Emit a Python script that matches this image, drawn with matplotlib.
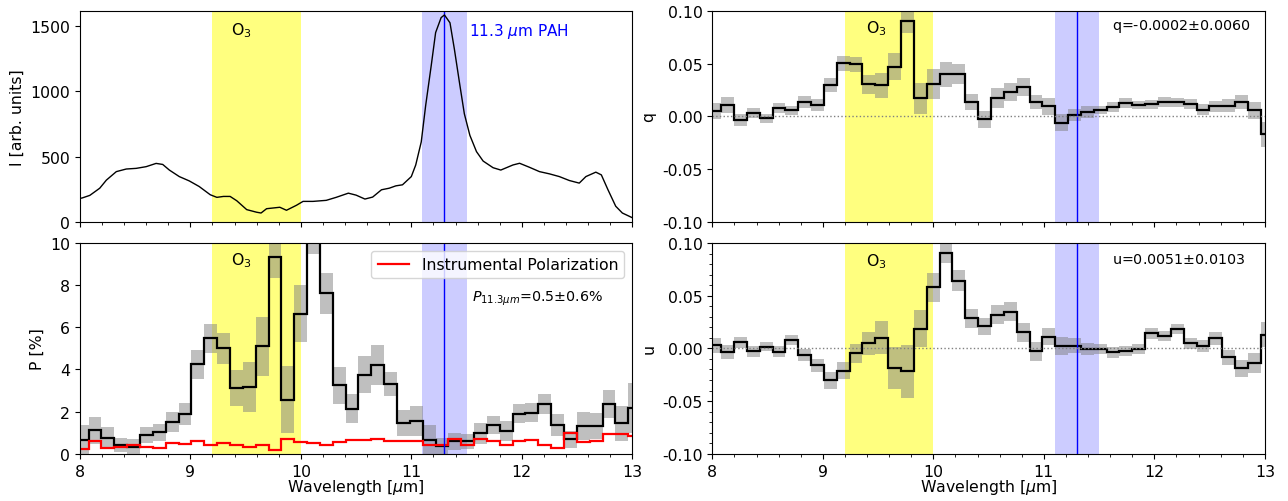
import numpy as np
import matplotlib
matplotlib.use("Agg")
import matplotlib.pyplot as plt
from matplotlib.ticker import MultipleLocator

# intensity spectrum
wl_spec = [8.00, 8.02, 8.09, 8.18, 8.24, 8.33, 8.42, 8.51, 8.60, 8.69, 8.75, 8.81, 8.90,
           8.99, 9.08, 9.18, 9.24, 9.30, 9.36, 9.42, 9.51, 9.60, 9.64, 9.69, 9.81,
           9.87, 9.96, 10.02, 10.11, 10.23, 10.32, 10.43, 10.50, 10.58, 10.65, 10.73,
           10.80, 10.86, 10.92, 11.00, 11.04, 11.09, 11.13, 11.18, 11.22, 11.27, 11.30,
           11.35, 11.39, 11.44, 11.48, 11.53, 11.59, 11.65, 11.74, 11.81, 11.92, 11.98,
           12.07, 12.16, 12.25, 12.34, 12.43, 12.52, 12.58, 12.67, 12.72, 12.78, 12.85,
           12.91, 12.99, 13.00]
flux = [180, 183, 203, 258, 320, 385, 405, 410, 423, 448, 440, 397, 347,
        314, 271, 208, 188, 195, 195, 162, 94, 74, 68, 101, 112,
        89, 127, 157, 157, 165, 188, 220, 205, 175, 190, 246,
        258, 276, 284, 347, 436, 613, 892, 1196, 1450, 1565, 1585,
        1525, 1322, 1044, 828, 663, 538, 466, 415, 397, 436, 449,
        418, 385, 368, 347, 317, 297, 347, 381, 360, 246, 120,
        68, 36, 32]

# binned polarization (44 bins between 7.96 and 13.08 um)
P = [0.67, 1.11, 0.75, 0.43, 0.32, 0.87, 1.03, 1.51, 1.90, 4.24, 5.48, 5.00, 3.14, 3.17,
     5.11, 9.32, 2.57, 6.65, 10.3, 7.62, 3.25, 2.14, 3.76, 4.21, 3.29, 1.46, 1.56, 0.67,
     0.35, 0.60, 0.60, 0.98, 1.35, 1.08, 1.90, 1.95, 2.35, 1.35, 0.68, 1.32, 1.32, 2.35,
     1.46, 2.17]
P_err = [0.70, 0.63, 0.50, 0.33, 0.36, 0.38, 0.40, 0.48, 0.52, 0.67, 0.69, 0.74, 0.85, 1.20,
         1.40, 1.00, 1.60, 1.35, 0.80, 0.97, 0.87, 0.70, 0.87, 0.94, 0.57, 0.60, 0.70, 0.70,
         0.40, 0.40, 0.36, 0.50, 0.43, 0.48, 0.44, 0.44, 0.48, 0.52, 0.40, 0.67, 0.63, 0.67,
         0.83, 1.20]
P_inst = [0.25, 0.59, 0.27, 0.32, 0.44, 0.32, 0.27, 0.52, 0.48, 0.60, 0.40, 0.52, 0.43, 0.32,
          0.40, 0.16, 0.71, 0.56, 0.52, 0.44, 0.56, 0.67, 0.67, 0.71, 0.60, 0.60, 0.63, 0.40,
          0.40, 0.71, 0.44, 0.71, 0.63, 0.44, 0.63, 0.67, 0.44, 0.29, 1.00, 0.56, 0.63, 0.95,
          0.95, 0.83]

q = [0.0051, 0.0105, -0.0035, 0.0035, -0.0016, 0.0080, 0.0057, 0.0137, 0.0108, 0.0298,
     0.0503, 0.0494, 0.0304, 0.0294, 0.0472, 0.0905, 0.0171, 0.0310, 0.0399, 0.0399,
     0.0137, -0.0028, 0.0177, 0.0231, 0.0279, 0.0137, 0.0095, -0.0060, 0.0013, 0.0045,
     0.0060, 0.0092, 0.0130, 0.0108, 0.0115, 0.0139, 0.0133, 0.0120, 0.0066, 0.0095,
     0.0101, 0.0133, 0.0057, -0.0171]
q_err = [0.0076, 0.0076, 0.0055, 0.0050, 0.0043, 0.0050, 0.0040, 0.0055, 0.0060, 0.0070,
         0.0070, 0.0073, 0.0090, 0.0120, 0.0130, 0.0110, 0.0150, 0.0145, 0.0120, 0.0095,
         0.0080, 0.0080, 0.0095, 0.0087, 0.0082, 0.0068, 0.0080, 0.0080, 0.0055, 0.0055,
         0.0040, 0.0047, 0.0047, 0.0040, 0.0040, 0.0046, 0.0044, 0.0049, 0.0050, 0.0050,
         0.0060, 0.0066, 0.0084, 0.0120]

u = [0.0031, -0.0032, 0.0057, -0.0029, 0.0015, -0.0032, 0.0079, -0.0064, -0.0159, -0.0301,
     -0.0213, -0.0048, 0.0047, 0.0101, -0.0187, -0.0216, 0.0186, 0.0580, 0.0903, 0.0640,
     0.0285, 0.0209, 0.0320, 0.0348, 0.0152, -0.0029, 0.0110, 0.0025, 0.0025, -0.0007,
     -0.0007, -0.0038, -0.0022, -0.0007, 0.0142, 0.0120, 0.0183, 0.0047, 0.0025, 0.0095,
     -0.0086, -0.0190, -0.0140, 0.0129]
u_err = [0.0071, 0.0066, 0.0050, 0.0048, 0.0044, 0.0050, 0.0044, 0.0055, 0.0063, 0.0080,
         0.0080, 0.0090, 0.0110, 0.0155, 0.0200, 0.0250, 0.0174, 0.0138, 0.0095, 0.0100,
         0.0092, 0.0082, 0.0092, 0.0090, 0.0087, 0.0087, 0.0080, 0.0084, 0.0071, 0.0057,
         0.0048, 0.0052, 0.0048, 0.0048, 0.0050, 0.0048, 0.0050, 0.0055, 0.0057, 0.0063,
         0.0071, 0.0080, 0.0092, 0.0120]

edges = np.linspace(7.963, 13.08, len(P) + 1)

plt.rcParams["font.size"] = 11.3

fig, axes = plt.subplots(2, 2, sharex=True, figsize=(12.88, 5.02), dpi=100)
fig.subplots_adjust(left=0.062, right=0.982, bottom=0.094, top=0.976, wspace=0.145, hspace=0.1)
ax_i, ax_q = axes[0]
ax_p, ax_u = axes[1]


def bands(ax):
    ax.axvspan(9.2, 10.0, color="yellow", alpha=0.5, lw=0)
    ax.axvspan(11.1, 11.5, color="blue", alpha=0.2, lw=0)
    ax.axvline(11.3, color="blue", lw=1)


def binned(ax, vals, errs):
    vals = np.array(vals)
    errs = np.array(errs)
    ax.stairs(vals + errs, edges, baseline=vals - errs, fill=True, color="gray", alpha=0.5, lw=0)
    ax.stairs(vals, edges, baseline=None, color="black", lw=1.6)


# intensity
bands(ax_i)
ax_i.plot(wl_spec, flux, color="black", lw=1)
ax_i.set_ylim(0, 1615)
ax_i.set_ylabel("I [arb. units]")
ax_i.text(9.37, 1470, r"O$_3$", va="center")
ax_i.text(11.52, 1465, r"11.3 $\mu$m PAH", color="blue", va="center", fontsize=11)

# polarization degree
bands(ax_p)
binned(ax_p, P, P_err)
ax_p.stairs(P_inst, edges, baseline=None, color="red", lw=1.6, label="Instrumental Polarization")
ax_p.set_ylim(0, 10)
ax_p.set_ylabel("P [%]")
ax_p.set_xlabel(r"Wavelength [$\mu$m]", labelpad=-1)
ax_p.text(9.37, 9.19, r"O$_3$", va="center")
ax_p.text(11.55, 7.38, r"$P_{11.3\mu m}$=0.5$\pm$0.6%", va="center", fontsize=10.3)
ax_p.legend(loc="upper right")

# q
bands(ax_q)
binned(ax_q, q, q_err)
ax_q.axhline(0, color="gray", ls=":", lw=1)
ax_q.set_ylim(-0.1, 0.1)
ax_q.set_ylabel("q")
ax_q.text(9.39, 0.084, r"O$_3$", va="center")
ax_q.text(11.62, 0.086, "q=-0.0002$\\pm$0.0060", va="center", fontsize=10.3)

# u
bands(ax_u)
binned(ax_u, u, u_err)
ax_u.axhline(0, color="gray", ls=":", lw=1)
ax_u.set_ylim(-0.1, 0.1)
ax_u.set_ylabel("u")
ax_u.set_xlabel(r"Wavelength [$\mu$m]", labelpad=-1)
ax_u.text(9.39, 0.083, r"O$_3$", va="center")
ax_u.text(11.62, 0.085, "u=0.0051$\\pm$0.0103", va="center", fontsize=10.3)
ax_u.yaxis.set_minor_locator(MultipleLocator(0.01))

for ax in [ax_q, ax_u]:
    ax.yaxis.set_major_locator(MultipleLocator(0.05))
    ax.yaxis.set_major_formatter(matplotlib.ticker.FormatStrFormatter("%.2f"))

for ax in axes.flat:
    ax.set_xlim(8, 13)
    ax.xaxis.set_major_locator(MultipleLocator(1))
    ax.xaxis.set_minor_locator(MultipleLocator(0.2))

fig.savefig("out.png", dpi=100)
